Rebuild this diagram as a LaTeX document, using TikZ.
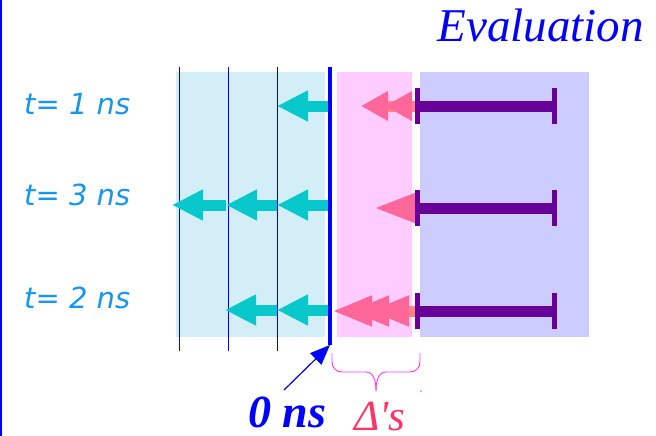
\documentclass[tikz,border=0pt]{standalone}
\usepackage{fontspec}
\setmainfont{Liberation Serif}
\newfontfamily\labfont{DejaVu Sans}
\usetikzlibrary{arrows.meta}
\definecolor{cyanbg}{RGB}{211,238,247}
\definecolor{pinkbg}{RGB}{255,204,255}
\definecolor{purplebg}{RGB}{204,204,255}
\definecolor{cyanarr}{RGB}{8,200,204}
\definecolor{pinkarr}{RGB}{255,102,153}
\definecolor{pinkshaft}{RGB}{255,130,128}
\definecolor{barcol}{RGB}{102,0,153}
\definecolor{labcol}{RGB}{20,150,245}
\definecolor{deltacol}{RGB}{255,51,102}
\definecolor{bracecol}{RGB}{255,51,255}
\begin{document}
\begin{tikzpicture}[x=1pt,y=-1pt,
  thinline/.style={draw=blue,line width=1pt},
  cyanarrow/.style={draw=cyanarr,line width=11pt,-{Triangle[length=31pt,width=29pt,color=cyanarr]}},
  pinkarrow/.style={draw=pinkshaft,line width=11pt,-{Triangle[length=#1,width=28pt,color=pinkarr]}},
  purplebar/.style={draw=barcol,line width=11pt},
  barcap/.style={draw=barcol,line width=5pt},
  tlabel/.style={text=labcol,font=\labfont\itshape\fontsize{29}{29}\selectfont,anchor=base west,inner sep=0pt}]
\useasboundingbox (0,0) rectangle (656,436);
\fill[white] (0,0) rectangle (656,436);
% background boxes
\fill[cyanbg] (176,72) rectangle (325,337);
\fill[pinkbg] (337,72) rectangle (412,337);
\fill[purplebg] (420,72) rectangle (589,337);
% left edge
\draw[blue,line width=1.5pt] (1,0) -- (1,436);
% thin vertical lines
\coordinate (v1t) at (179,67); \coordinate (v1b) at (179,351);
\coordinate (v2t) at (228,67); \coordinate (v2b) at (228,351);
\coordinate (v3t) at (277,67); \coordinate (v3b) at (277,351);
\draw[thinline] (v1t) -- (v1b);
\draw[thinline] (v2t) -- (v2b);
\draw[thinline] (v3t) -- (v3b);
% cyan arrows
\coordinate (c1a) at (330,106); \coordinate (c1b) at (277,106);
\draw[cyanarrow] (c1a) -- (c1b);
\coordinate (c2a) at (330,205); \coordinate (c2b) at (277,205);
\coordinate (c2c) at (226,205); \coordinate (c2d) at (172,205);
\draw[cyanarrow] (c2a) -- (c2b);
\draw[cyanarrow] (c2b) -- (c2c);
\draw[cyanarrow] (c2c) -- (c2d);
\coordinate (c3a) at (330,310); \coordinate (c3b) at (277,310);
\coordinate (c3c) at (225,310);
\draw[cyanarrow] (c3a) -- (c3b);
\draw[cyanarrow] (c3b) -- (c3c);
% pink arrows
\coordinate (p1s) at (416,106);
\coordinate (p1a) at (361,106); \coordinate (p1b) at (385,106);
\draw[pinkarrow=27pt] (p1s) -- (p1a);
\draw[pinkarrow=27pt] (p1s) -- (p1b);
\coordinate (p2s) at (416,208); \coordinate (p2a) at (373,208);
\draw[pinkarrow=44pt] (p2s) -- (p2a);
\coordinate (p3s) at (416,311);
\coordinate (p3a) at (332,311); \coordinate (p3b) at (349,311); \coordinate (p3c) at (369,311);
\draw[pinkarrow=40pt] (p3s) -- (p3a);
\draw[pinkarrow=40pt] (p3s) -- (p3b);
\draw[pinkarrow=40pt] (p3s) -- (p3c);
% purple bars
\foreach \y/\n in {106/1,208/2,311/3}{
  \coordinate (bl\n) at (417,\y); \coordinate (br\n) at (554,\y);
  \draw[purplebar] (bl\n) -- (br\n);
  \draw[barcap] ([yshift=-18pt]bl\n) -- ([yshift=18pt]bl\n);
  \draw[barcap] ([yshift=-18pt]br\n) -- ([yshift=18pt]br\n);
}
% thick time-zero line
\coordinate (zt) at (330,67); \coordinate (zb) at (330,345);
\draw[blue,line width=3.5pt] (zt) -- (zb);
% labels
\node[tlabel] (t1) at (24,114) {t= 1 ns};
\node[tlabel] (t3) at (24,205) {t= 3 ns};
\node[tlabel] (t2) at (24,308) {t= 2 ns};
\node[text=blue,font=\itshape\fontsize{47}{47}\selectfont,anchor=base east,inner sep=0pt] (eval) at (644,42) {Evaluation};
\node[text=blue,font=\bfseries\itshape\fontsize{46}{46}\selectfont,anchor=base west,inner sep=0pt,text depth=0pt] (zero) at (248,427) {0 ns};
\node[text=deltacol,font=\itshape\fontsize{43}{43}\selectfont,anchor=base west,inner sep=0pt,text depth=0pt] (delta) at (354,430) {Δ\textquotesingle s};
% pointer arrow
\coordinate (ptail) at (284,390);
\draw[blue,line width=1.2pt,-{Triangle[length=20pt,width=16pt]}] (ptail) -- (zb);
% brace
\coordinate (brl) at (332,353); \coordinate (brr) at (420,353); \coordinate (brtip) at (376,391);
\draw[bracecol,line width=0.9pt] (brl) -- (332,362) to[out=-90,in=180] (342,372) -- (366,372) to[out=0,in=90] (brtip);
\draw[bracecol,line width=0.9pt] (brr) -- (420,362) to[out=-90,in=0] (410,372) -- (386,372) to[out=180,in=90] (brtip);
\fill[bracecol] (421,391) circle (0.8pt);
\end{tikzpicture}
\end{document}
